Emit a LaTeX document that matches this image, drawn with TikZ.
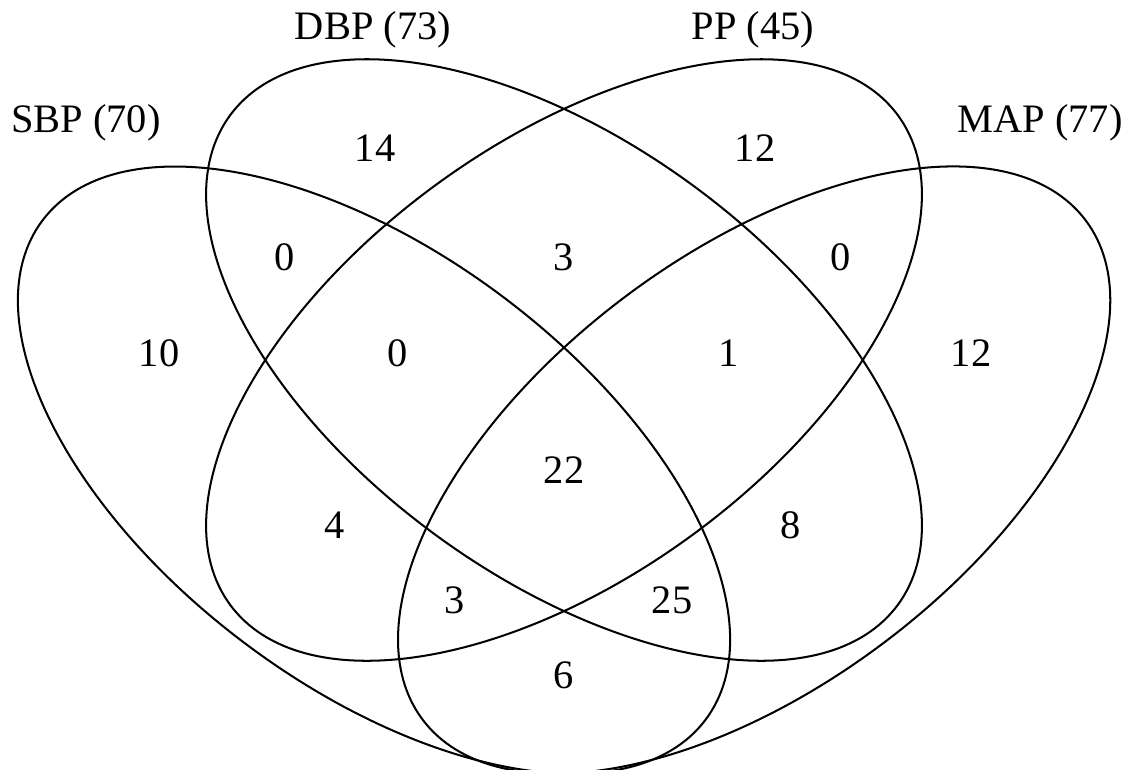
\documentclass[tikz,border=0pt]{standalone}
\usepackage{fontspec}
\setmainfont{Liberation Serif}
\usepackage{tikz}
\tikzset{
    setline/.style={draw=black, line width=1.15pt},
    setname/.style={font=\fontsize{23}{27}\selectfont, text=black, inner sep=0pt},
    count/.style={font=\fontsize{23}{27}\selectfont, text=black, inner sep=0pt}
}

\begin{document}
\begin{tikzpicture}[x=0.02cm, y=-0.02cm]
    \useasboundingbox (0,0) rectangle (1131,769);

    % Centres of the four sets
    \coordinate (csbp) at (374,470);
    \coordinate (cdbp) at (564,360);
    \coordinate (cpp)  at (564,360);
    \coordinate (cmap) at (754,470);

    % Four ellipses
    \draw[setline, rotate around={-37:(csbp)}] (csbp) ellipse [x radius=415, y radius=216];
    \draw[setline, rotate around={-36.2:(cdbp)}] (cdbp) ellipse [x radius=414, y radius=217];
    \draw[setline, rotate around={36.2:(cpp)}] (cpp) ellipse [x radius=414, y radius=217];
    \draw[setline, rotate around={37:(cmap)}] (cmap) ellipse [x radius=415, y radius=216];

    % Set names
    \node[setname] (lsbp) at (86,123) {SBP (70)};
    \node[setname] (ldbp) at (373,30) {DBP (73)};
    \node[setname] (lpp)  at (753,30) {PP (45)};
    \node[setname] (lmap) at (1040,123) {MAP (77)};

    % Counts, top row to bottom
    \node[count] (dbponly) at (375,148) {14};
    \node[count] (pponly)  at (755,148) {12};
    \node[count] (sd)      at (285,257) {0};
    \node[count] (dp)      at (564,257) {3};
    \node[count] (pm)      at (841,257) {0};
    \node[count] (sbponly) at (159,353) {10};
    \node[count] (sdp)     at (398,353) {0};
    \node[count] (dpm)     at (729,353) {1};
    \node[count] (maponly) at (971,353) {12};
    \node[count] (all)     at (564,470) {22};
    \node[count] (sp)      at (335,525) {4};
    \node[count] (dm)      at (791,525) {8};
    \node[count] (spm)     at (455,600) {3};
    \node[count] (sdm)     at (672,600) {25};
    \node[count] (sm)      at (564,675) {6};

\end{tikzpicture}
\end{document}
